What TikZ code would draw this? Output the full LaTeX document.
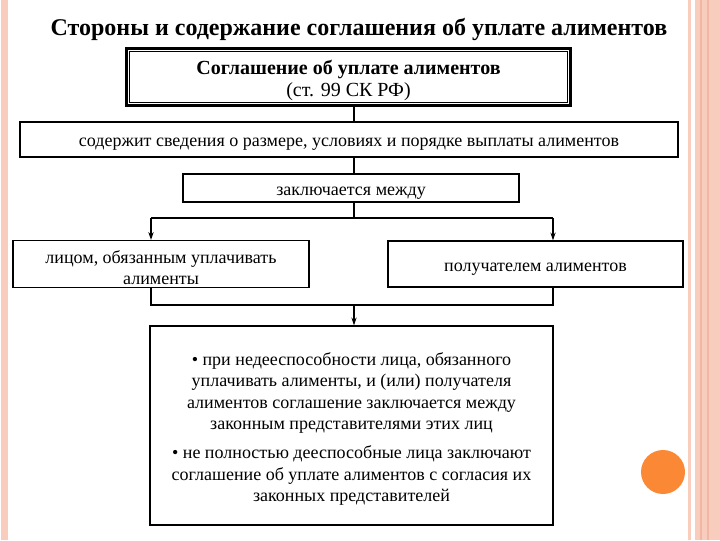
\documentclass[tikz,border=0pt]{standalone}
\usepackage{fontspec}
\setmainfont{Liberation Serif}
\usetikzlibrary{arrows.meta, calc}
\definecolor{stripepink}{RGB}{249, 205, 190}
\definecolor{stripedark}{RGB}{241, 183, 163}
\definecolor{dotorange}{RGB}{250, 136, 52}
\newcommand{\liftline}[1]{\rule{0pt}{#1}}

\begin{document}
\begin{tikzpicture}[x=0.75pt, y=-0.75pt,
        box/.style={draw, line width=0.9pt, align=center, inner sep=2pt,
            font=\fontsize{13.5}{16}\selectfont,
            execute at begin node={\liftline{14pt}}},
        link/.style={line width=0.9pt},
        arrow/.style={link, -{Stealth[length=6pt, width=4pt]}}]

    \useasboundingbox (0, 0) rectangle (720, 540);

    % page decoration
    \fill[stripepink] (1, 0) rectangle (8, 540);
    \fill[stripepink] (688, 0) rectangle (691, 540);
    \fill[stripepink] (695, 0) rectangle (720, 540);
    \draw[stripedark, line width=0.8pt] (701, 0) -- (701, 540);
    \draw[stripedark, line width=0.8pt] (708, 0) -- (708, 540);
    \fill[dotorange] (663, 472) circle[radius=22];

    \node[font=\bfseries\fontsize{18}{21}\selectfont]
        (title) at (359, 29) {Стороны и содержание соглашения об уплате алиментов};

    \node[box, line width=2.3pt, inner sep=0pt,
        minimum width=332.9pt, minimum height=42.6pt,
        font=\fontsize{15}{16.5}\selectfont]
        (agree) at (348.5, 77) {\liftline{16pt}\textbf{Соглашение об уплате алиментов}\\(ст. 99 СК РФ)};
    \draw[line width=0.9pt] ($(agree.south west)+(4.5, -4.5)$) rectangle ($(agree.north east)+(-4.5, 4.5)$);

    \node[box, minimum width=493.5pt, minimum height=26.25pt]
        (info) at (349, 139.5) {содержит сведения о размере, условиях и порядке выплаты алиментов};

    \node[box, minimum width=252pt, minimum height=21pt]
        (between) at (351, 188) {заключается между};

    \node[box, minimum width=222pt, minimum height=34.5pt]
        (payer) at (161, 264) {\liftline{15pt}лицом, обязанным уплачивать\\алименты};

    \node[box, minimum width=221.25pt, minimum height=34.5pt]
        (payee) at (535.5, 264) {получателем алиментов};

    \node[box, minimum width=302.25pt, minimum height=149.25pt]
        (note) at (351.5, 425.5) {\liftline{15pt}• при недееспособности лица, обязанного\\
            уплачивать алименты, и (или) получателя\\
            алиментов соглашение заключается между\\
            законным представителями этих лиц\\[6pt]
            • не полностью дееспособные лица заключают\\
            соглашение об уплате алиментов с согласия их\\
            законных представителей};

    % connectors
    \coordinate (split) at (354, 218);
    \coordinate (lfork) at (151, 218);
    \coordinate (rfork) at (553, 218);
    \coordinate (merge) at (354, 305);
    \coordinate (lmerge) at (151, 305);
    \coordinate (rmerge) at (553, 305);

    \draw[link] (agree.south -| split) -- (info.north -| split);
    \draw[link] (info.south -| split) -- (between.north -| split);
    \draw[link] (between.south -| split) -- (split);
    \draw[link] (lfork) -- (rfork);
    \draw[arrow] (lfork) -- (payer.north -| lfork);
    \draw[arrow] (rfork) -- (payee.north -| rfork);
    \draw[link] (payer.south -| lmerge) -- (lmerge) -- (rmerge) -- (payee.south -| rmerge);
    \draw[arrow] (merge) -- (note.north -| merge);

\end{tikzpicture}
\end{document}
